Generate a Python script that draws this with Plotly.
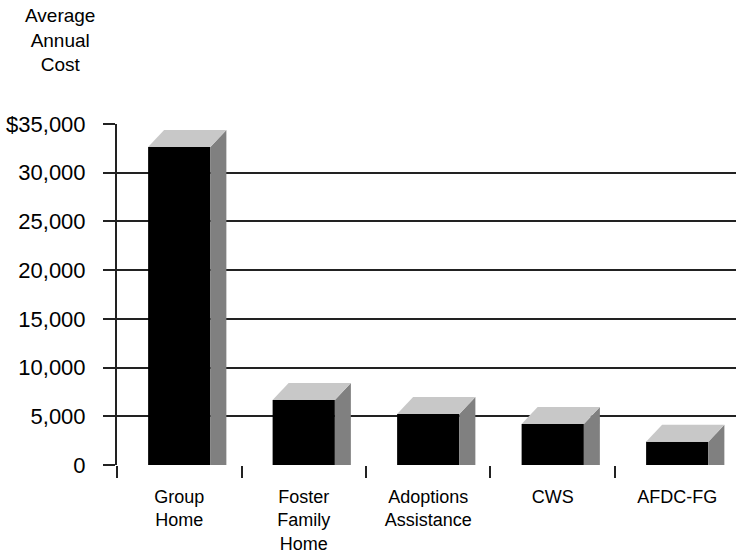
import plotly.graph_objects as go

# Average annual cost per child, by program
categories = ["Group<br>Home", "Foster<br>Family<br>Home", "Adoptions<br>Assistance", "CWS", "AFDC-FG"]
costs = [32650, 6680, 5240, 4210, 2390]

y_tick_values = [0, 5000, 10000, 15000, 20000, 25000, 30000, 35000]
y_tick_labels = ["0", "5,000", "10,000", "15,000", "20,000", "25,000", "30,000", "$35,000"]

FONT = "Liberation Sans, Arial, sans-serif"
LINE = "#222222"
FRONT = "#000000"
TOP = "#c8c8c8"
SIDE = "#808080"

BAR_W = 0.5       # front face width, in category units
DEPTH_X = 0.1285  # oblique depth, category units
DEPTH_Y = 1745    # oblique depth, value units

xs = list(range(len(categories)))

fig = go.Figure()

# front faces
fig.add_trace(go.Bar(
    x=xs, y=costs, width=BAR_W,
    marker=dict(color=FRONT, line=dict(width=0)),
    hoverinfo="skip", showlegend=False,
))

# side and top faces of each block
for x, v in zip(xs, costs):
    xl, xr = x - BAR_W / 2, x + BAR_W / 2
    fig.add_trace(go.Scatter(
        x=[xr, xr + DEPTH_X, xr + DEPTH_X, xr, xr],
        y=[0, 0, v + DEPTH_Y, v, 0],
        fill="toself", fillcolor=SIDE, mode="lines",
        line=dict(width=0, color=SIDE), hoverinfo="skip", showlegend=False,
    ))
    fig.add_trace(go.Scatter(
        x=[xl, xl + DEPTH_X, xr + DEPTH_X, xr, xl],
        y=[v, v + DEPTH_Y, v + DEPTH_Y, v, v],
        fill="toself", fillcolor=TOP, mode="lines",
        line=dict(width=0, color=TOP), hoverinfo="skip", showlegend=False,
    ))

x_range = [-0.5, 4.472]

fig.update_layout(
    width=736, height=556,
    margin=dict(l=117, r=0, t=124, b=91, pad=0, autoexpand=False),
    paper_bgcolor="white", plot_bgcolor="white",
    font=dict(family=FONT, color="black"),
    showlegend=False,
    xaxis=dict(
        range=x_range, tickmode="array", tickvals=xs, ticktext=categories,
        ticks="", showgrid=False, zeroline=False, automargin=False,
        showline=False, tickfont=dict(size=18, family=FONT, color="black"),
        ticklabelstandoff=19, fixedrange=True,
    ),
    xaxis2=dict(
        range=x_range, overlaying="x", anchor="y", side="bottom",
        tickmode="array", tickvals=[-0.5, 0.5, 1.5, 2.5, 3.5],
        ticks="outside", ticklen=12, tickwidth=2, tickcolor=LINE, automargin=False,
        showticklabels=False, showgrid=False, zeroline=False, showline=False,
    ),
    yaxis=dict(
        range=[0, 35000], tickmode="array", tickvals=y_tick_values, ticktext=y_tick_labels,
        ticks="outside", ticklen=12, tickwidth=2, tickcolor=LINE,
        showline=True, linecolor=LINE, linewidth=2, automargin=False,
        showgrid=True, gridcolor=LINE, gridwidth=2, zeroline=False,
        tickfont=dict(size=22, family=FONT, color="black"),
        ticklabelstandoff=13, fixedrange=True,
    ),
    annotations=[dict(
        text="Average<br>Annual<br>Cost", xref="paper", yref="paper",
        x=(60 - 117) / 619, y=1 + (124 - 3) / 341,
        xanchor="center", yanchor="top", showarrow=False, align="center",
        font=dict(size=19, family=FONT, color="black"),
    )],
)

# a dummy trace binds xaxis2 so its tick marks are drawn
fig.add_trace(go.Scatter(x=[None], y=[None], xaxis="x2", showlegend=False, hoverinfo="skip"))

fig.write_html("out.html")
